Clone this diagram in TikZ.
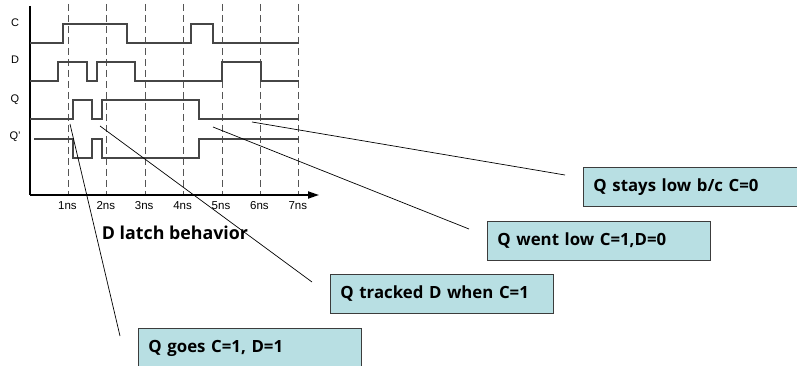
\documentclass[tikz,border=0pt]{standalone}
\usepackage{fontspec}
\setmainfont{Liberation Sans}
\newfontfamily\boldsans{Open Sans}
\usepackage{tikz}
\usetikzlibrary{positioning, arrows.meta, calc}
\definecolor{SigGray}{RGB}{70,70,70}
\definecolor{GridGray}{RGB}{85,85,85}
\definecolor{NoteCyan}{RGB}{184,223,227}
\definecolor{NoteEdge}{RGB}{60,60,60}

\begin{document}
\begin{tikzpicture}[x=1pt, y=-1pt,
          sig/.style={SigGray, line width=1.2pt},
          grid/.style={GridGray, line width=1pt, dash pattern=on 7pt off 4pt},
          tick/.style={font=\fontsize{11.5}{12}\selectfont, inner sep=0pt},
          lbl/.style={font=\fontsize{11}{12}\selectfont, inner sep=0pt},
          note/.style={rectangle, draw=NoteEdge, line width=0.9pt, fill=NoteCyan,
                       anchor=north west, minimum width=223pt, minimum height=39pt,
                       inner xsep=10pt, text width=203pt, align=left,
                       font=\boldsans\bfseries\fontsize{16.8}{18}\selectfont},
          lead/.style={black, line width=0.7pt}
        ]
        \useasboundingbox (0,0) rectangle (797,366);

        % Time grid and labels
        \foreach \i in {1,...,7} {
          \draw[grid] (30+38.4*\i,4) -- (30+38.4*\i,195);
          \node[tick] (t\i) at (29+38.4*\i,206) {\i ns};
        }

        % Axes
        \node[inner sep=0pt] (orig) at (30,195) {};
        \coordinate (ytop) at (30,6);
        \coordinate (xend) at (319,195);
        \draw[black, line width=1.8pt] (ytop) -- (orig.center);
        \draw[black, line width=1.8pt, -{Triangle[length=11pt, width=7pt]}]
              (orig.center) -- (xend);

        % Signal names
        \node[lbl] (lC) at (15,23) {C};
        \node[lbl] (lD) at (15,60) {D};
        \node[lbl] (lQ) at (15,100) {Q};
        \node[lbl] (lQn) at (15,137) {Q'};

        % Waveforms
        \draw[sig] (30,43) -| (63,24) -| (127,43) -| (191,24) -| (213,43) -- (299,43);
        \draw[sig] (30,81) -| (58,62) -| (87,81) -| (97,62) -| (135,81)
                   -| (222,62) -| (261,81) -- (299,81);
        \draw[sig] (30,119) -| (73,100) -| (92,119) -| (102,100) -| (199,119) -- (299,119);
        \draw[sig] (34,139) -| (73,158) -| (92,139) -| (102,158) -| (199,139) -- (299,139);

        \node[font=\boldsans\bfseries\fontsize{17.8}{19}\selectfont, inner sep=0pt]
              (title) at (175,233) {D latch behavior};

        % Callouts
        \node[note] (stay) at (583,167) {Q stays low b/c C=0};
        \node[note] (low) at (487,221) {Q went low C=1,D=0};
        \node[note] (track) at (330,274) {Q tracked D when C=1};
        \node[note] (goes) at (138,328) {Q goes C=1, D=1};

        \coordinate (pStay) at (252,122);
        \coordinate (pLow) at (213,127);
        \coordinate (pTrack) at (100,126);
        \coordinate (pGoes) at (70,124);

        \foreach \n/\p in {stay/pStay, low/pLow, track/pTrack, goes/pGoes} {
          \coordinate (e\n) at ($(\n.north west)+(-18,8)$);
          \draw[lead] (\p) -- (e\n);
        }
      \end{tikzpicture}
\end{document}
